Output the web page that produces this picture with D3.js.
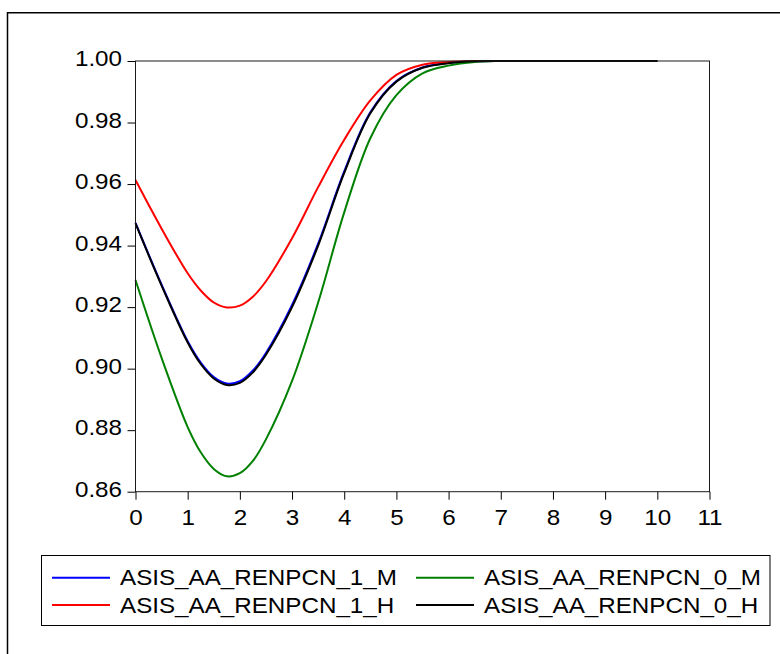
<!DOCTYPE html>
<html>
<head>
<meta charset="utf-8">
<script src="https://cdn.jsdelivr.net/npm/d3@7"></script>
<style>
  html, body { margin: 0; padding: 0; background: #fff; }
  svg { display: block; }
  text { font-family: "Liberation Sans", Arial, sans-serif; font-size: 22px; fill: #000; }
</style>
</head>
<body>
<svg id="chart" width="780" height="654"></svg>
<script>
// Horizon (x) and series values
const horizon = [0, 0.5, 1, 1.25, 1.5, 1.75, 2, 2.25, 2.5, 3, 3.5, 4, 4.5, 5, 5.5, 6, 6.5, 7, 8, 9, 10];

const renpcn1M = [0.9474, 0.9273, 0.9089, 0.9020, 0.8973, 0.8952, 0.8959, 0.8994, 0.9051, 0.9207, 0.9406, 0.9641, 0.9833, 0.9935, 0.9979, 0.9994, 0.9999, 1.0000, 1.0000, 1.0000, 1.0000];
const renpcn1H = [0.9613, 0.9455, 0.9310, 0.9254, 0.9215, 0.9199, 0.9205, 0.9234, 0.9284, 0.9424, 0.9590, 0.9744, 0.9872, 0.9955, 0.9988, 0.9997, 1.0000, 1.0000, 1.0000, 1.0000, 1.0000];
const renpcn0M = [0.9288, 0.9035, 0.8810, 0.8728, 0.8674, 0.8650, 0.8660, 0.8700, 0.8770, 0.8960, 0.9215, 0.9508, 0.9749, 0.9889, 0.9960, 0.9985, 0.9997, 1.0000, 1.0000, 1.0000, 1.0000];
const renpcn0H = [0.9472, 0.9270, 0.9085, 0.9015, 0.8968, 0.8947, 0.8954, 0.8988, 0.9045, 0.9200, 0.9400, 0.9636, 0.9830, 0.9933, 0.9978, 0.9993, 0.9999, 1.0000, 1.0000, 1.0000, 1.0000];

const seriesNames = ["ASIS_AA_RENPCN_1_M", "ASIS_AA_RENPCN_1_H", "ASIS_AA_RENPCN_0_M", "ASIS_AA_RENPCN_0_H"];
const seriesColors = ["#0000ff", "#ff0000", "#008000", "#000000"];
const seriesValues = [renpcn1M, renpcn1H, renpcn0M, renpcn0H];

const xTicks = [0, 1, 2, 3, 4, 5, 6, 7, 8, 9, 10, 11];
const yTicks = [0.86, 0.88, 0.90, 0.92, 0.94, 0.96, 0.98, 1.00];

const svg = d3.select("#chart");
const stretch = 1.1;  // widened lettering

// outer frame
svg.append("path")
  .attr("d", "M7.5,660 L7.5,12.75 L790,12.75")
  .attr("fill", "none").attr("stroke", "#000").attr("stroke-width", 1.5);

const plot = { left: 135.5, right: 709.5, top: 61, bottom: 491.7 };

const x = d3.scaleLinear().domain([0, 11]).range([plot.left, plot.right]);
const y = d3.scaleLinear().domain([0.86, 1.00]).range([plot.bottom, plot.top]);

// axes
const yAxis = svg.append("g")
  .attr("transform", `translate(${plot.left},0)`)
  .call(d3.axisLeft(y).tickValues(yTicks).tickFormat(d3.format(".2f")).tickSize(8).tickSizeOuter(0));
yAxis.select(".domain").remove();
yAxis.selectAll(".tick line").attr("stroke", "#000");
yAxis.selectAll(".tick text")
  .attr("x", null).attr("dy", null).attr("y", null)
  .attr("text-anchor", "end")
  .attr("transform", `translate(-13.5,4.5) scale(${stretch},1)`)
  .style("font-size", "22px").style("font-family", "'Liberation Sans', Arial, sans-serif");

const xAxis = svg.append("g")
  .attr("transform", `translate(0,${plot.bottom})`)
  .call(d3.axisBottom(x).tickValues(xTicks).tickFormat(d3.format("d")).tickSize(8).tickSizeOuter(0));
xAxis.select(".domain").remove();
xAxis.selectAll(".tick line").attr("stroke", "#000");
xAxis.selectAll(".tick text")
  .attr("x", null).attr("dy", null).attr("y", null)
  .attr("text-anchor", "middle")
  .attr("transform", `translate(0,33.3) scale(${stretch},1)`)
  .style("font-size", "22px").style("font-family", "'Liberation Sans', Arial, sans-serif");

// series lines
const line = d3.line()
  .x((d, i) => x(horizon[i]))
  .y(d => y(d))
  .curve(d3.curveCatmullRom.alpha(0.5));

svg.append("g").selectAll("path")
  .data(seriesValues)
  .join("path")
  .attr("d", d => line(d))
  .attr("fill", "none")
  .attr("stroke", (d, i) => seriesColors[i])
  .attr("stroke-width", 2);

// plot frame
svg.append("rect")
  .attr("x", plot.left).attr("y", plot.top)
  .attr("width", plot.right - plot.left).attr("height", plot.bottom - plot.top)
  .attr("fill", "none").attr("stroke", "#1a1a1a").attr("stroke-width", 1);

// legend
const legend = svg.append("g");
legend.append("rect")
  .attr("x", 41.5).attr("y", 555.5).attr("width", 728.5).attr("height", 70)
  .attr("fill", "#fff").attr("stroke", "#000").attr("stroke-width", 1);

const legendCols = [52, 416];
const legendRows = [577.7, 605];
seriesNames.forEach((name, i) => {
  const col = Math.floor(i / 2), row = i % 2;
  const lx = legendCols[col], ly = legendRows[row];
  legend.append("line")
    .attr("x1", lx).attr("x2", lx + 58).attr("y1", ly).attr("y2", ly)
    .attr("stroke", seriesColors[i]).attr("stroke-width", 2);
  legend.append("text")
    .attr("transform", `translate(${lx + 68},${ly + 7.6}) scale(${stretch},1)`)
    .text(name);
});
</script>
</body>
</html>
